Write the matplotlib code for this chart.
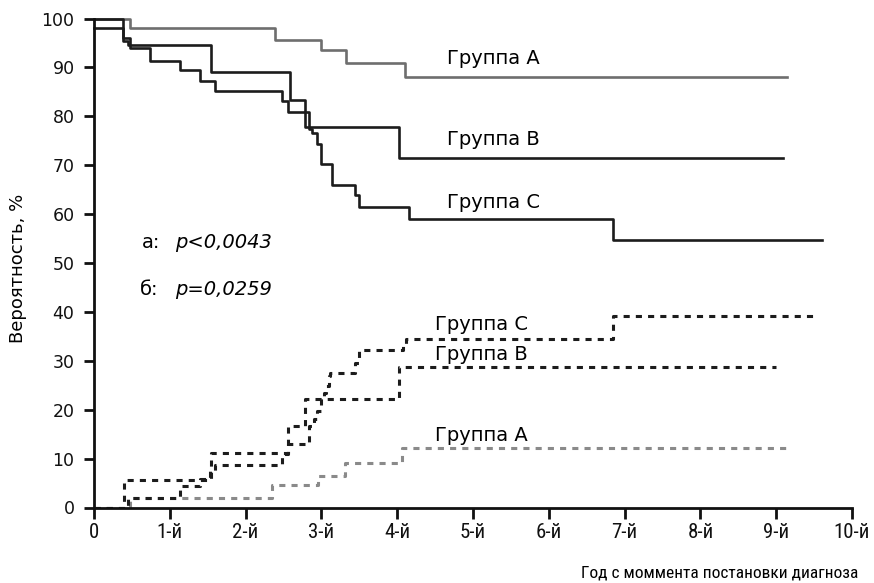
import matplotlib
matplotlib.use("Agg")
import matplotlib.pyplot as plt
from matplotlib import font_manager

# ---- data (years since diagnosis, probability %) ----
surv_a_t = [0, 0.47, 2.39, 3.0, 3.33, 4.1, 9.14]
surv_a_v = [100, 98, 95.6, 93.5, 91, 88, 88]

surv_b_t = [0, 0.38, 0.45, 1.55, 2.58, 2.78, 4.02, 9.09]
surv_b_v = [100, 95.5, 94.5, 89, 83.3, 77.8, 71.4, 71.4]

surv_c_t = [0, 0.38, 0.47, 0.74, 1.13, 1.4, 1.6, 2.48, 2.56, 2.83, 2.87, 2.94,
            3.0, 3.14, 3.44, 3.49, 4.15, 6.85, 9.6]
surv_c_v = [98, 96, 94, 91.4, 89.4, 87.3, 85.2, 83.2, 80.9, 77.5, 76.5, 74.4,
            70.3, 65.9, 63.9, 61.5, 59.1, 54.7, 54.7]

inc_a_t = [0, 0.47, 2.35, 2.96, 3.31, 4.06, 9.14]
inc_a_v = [0, 2.0, 4.5, 6.5, 9.0, 12.2, 12.2]

inc_b_t = [0, 0.39, 1.55, 2.56, 2.78, 4.02, 9.0]
inc_b_v = [0, 5.7, 11.2, 16.6, 22.2, 28.7, 28.7]

inc_c_t = [0, 0.45, 1.13, 1.4, 1.53, 1.6, 2.48, 2.56, 2.84, 2.9, 2.94, 3.0,
           3.03, 3.06, 3.1, 3.12, 3.44, 3.49, 4.08, 4.12, 6.85, 9.53]
inc_c_v = [0, 2.0, 4.3, 5.9, 7.5, 8.7, 11.0, 12.9, 16.6, 18.0, 19.7, 22.4,
           23.5, 24.8, 26.8, 27.6, 29.6, 32.2, 33.3, 34.5, 39.2, 39.2]

x_ticks = list(range(0, 11))
x_tick_labels = ["0", "1-й", "2-й", "3-й", "4-й", "5-й", "6-й", "7-й", "8-й", "9-й", "10-й"]
y_ticks = list(range(0, 101, 10))

group_names = ["Группа A", "Группа B", "Группа C"]
p_labels = ["а:", "б:"]
p_values = ["p<0,0043", "p=0,0259"]

plt.rcParams['font.family'] = ['DejaVu Sans']

# pick a narrow font if one is installed
names = {f.name for f in font_manager.fontManager.ttflist}
narrow = None
for cand in ["Liberation Sans Narrow", "Roboto Condensed", "Open Sans Condensed",
             "Noto Sans Condensed", "DejaVu Sans Condensed"]:
    if cand in names:
        narrow = cand
        break
if narrow:
    tick_kw = dict(family=[narrow, 'DejaVu Sans'], fontsize=15)
    xlab_kw = dict(family=[narrow, 'DejaVu Sans'], fontsize=12.5)
else:
    tick_kw = dict(family=['DejaVu Sans'], fontsize=12)
    xlab_kw = dict(family=['DejaVu Sans'], fontsize=9.5)

fig = plt.figure(figsize=(8.74, 5.83), dpi=100)
ax = fig.add_axes([94 / 874, 1 - 507.5 / 583, 758 / 874, 489 / 583])

dark = "#1c1c1c"
grey = "#6e6e6e"
lgrey = "#8a8a8a"

ax.step(surv_a_t, surv_a_v, where='post', color=grey, lw=1.9, clip_on=False)
ax.step(surv_b_t, surv_b_v, where='post', color=dark, lw=1.9, clip_on=False)
ax.step(surv_c_t, surv_c_v, where='post', color=dark, lw=1.9, clip_on=False)

ds = (0, (2.0, 2.0))
ax.step(inc_a_t, inc_a_v, where='post', color=lgrey, lw=2.2, ls=ds)
ax.step(inc_b_t, inc_b_v, where='post', color=dark, lw=2.2, ls=ds)
ax.step(inc_c_t, inc_c_v, where='post', color=dark, lw=2.2, ls=ds)

ax.set_xlim(0, 10)
ax.set_ylim(0, 100)
for s in ["top", "right"]:
    ax.spines[s].set_visible(False)
for s in ["left", "bottom"]:
    ax.spines[s].set_linewidth(2.0)
    ax.spines[s].set_color("#111111")

ax.set_yticks(y_ticks)
ax.set_xticks(x_ticks)
ax.tick_params(axis='y', length=7, width=2.0, pad=7, labelsize=12.5, colors="#111111")
ax.tick_params(axis='x', length=8, width=2.0, pad=3, colors="#111111")
ax.set_xticklabels(x_tick_labels, **tick_kw)

ax.set_ylabel("Вероятность, %", fontsize=13)
ax.yaxis.set_label_coords(-0.088, 0.49)

fig.text(858 / 874, 1 - 573 / 583, "Год с моммента постановки диагноза",
         ha='right', va='center', **xlab_kw)

fs = 14
ax.text(4.66, 90.75, group_names[0], fontsize=fs, va='baseline')
ax.text(4.66, 74.1, group_names[1], fontsize=fs, va='baseline')
ax.text(4.66, 61.2, group_names[2], fontsize=fs, va='baseline')
ax.text(4.5, 36.3, group_names[2], fontsize=fs, va='baseline')
ax.text(4.5, 30.2, group_names[1], fontsize=fs, va='baseline')
ax.text(4.5, 13.5, group_names[0], fontsize=fs, va='baseline')

ax.text(0.63, 53.0, p_labels[0], fontsize=fs, va='baseline')
ax.text(1.07, 53.0, p_values[0], fontsize=fs, va='baseline', style='italic')
ax.text(0.61, 43.5, p_labels[1], fontsize=fs, va='baseline')
ax.text(1.07, 43.5, p_values[1], fontsize=fs, va='baseline', style='italic')

fig.savefig("out.png", dpi=100)
